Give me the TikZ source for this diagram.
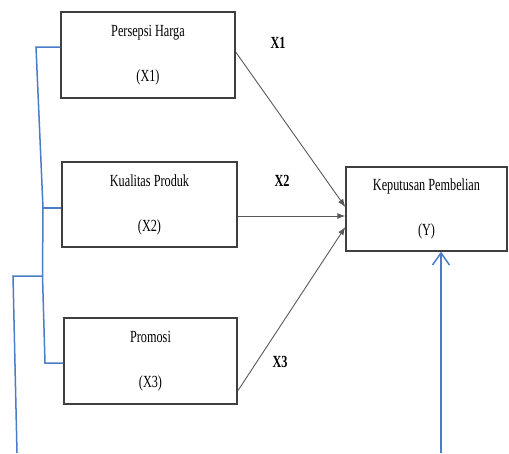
\documentclass[tikz,border=0pt]{standalone}
\usepackage{fontspec}
\setmainfont{Liberation Serif}
\usepackage{graphicx}
\usepackage{xcolor}
\usetikzlibrary{arrows.meta,calc}
\definecolor{boxgray}{HTML}{3F3F3F}
\definecolor{arrowgray}{HTML}{595959}
\definecolor{linkblue}{HTML}{4A7CC8}
% narrow, tall lettering
\newcommand\cond[1]{\scalebox{0.72}[1]{#1}}
\begin{document}
\begin{tikzpicture}[x=1pt,y=-1pt,
  box/.style={draw=boxgray,line width=1.4pt,rectangle,inner sep=0pt,align=center,
    font=\fontsize{17}{17}\selectfont},
  path/.style={draw=arrowgray,line width=0.9pt,-{Latex[length=8pt,width=6pt]}},
  link/.style={draw=linkblue,line width=1.5pt},
  lab/.style={font=\fontsize{17}{17}\selectfont\bfseries,inner sep=0pt}]
\useasboundingbox (0,0) rectangle (509,453);

% variable boxes
\node[box,minimum width=174pt,minimum height=86pt] (b1) at (148,55)
  {\cond{Persepsi Harga}\\[28pt]\cond{(X1)}};
\node[box,minimum width=175pt,minimum height=85pt] (b2) at (149.5,204.5)
  {\cond{Kualitas Produk}\\[28pt]\cond{(X2)}};
\node[box,minimum width=173pt,minimum height=86pt] (b3) at (150.5,361)
  {\cond{Promosi}\\[28pt]\cond{(X3)}};
\node[box,minimum width=161pt,minimum height=84pt] (Y) at (426.5,209)
  {\cond{Keputusan Pembelian}\\[28pt]\cond{(Y)}};

% partial effects
\draw[path] ($(b1.east)+(0,-3)$) -- ($(Y.west)+(0,-2)$);
\draw[path] ($(b2.east)+(0,11.5)$) -- ($(Y.west)+(0,7)$);
\draw[path] ($(b3.east)+(0,30)$) -- ($(Y.west)+(0,18)$);

\node[lab] (l1) at (278,43) {\cond{X1}};
\node[lab] (l2) at (282,181) {\cond{X2}};
\node[lab] (l3) at (280,362) {\cond{X3}};

% simultaneous effect bracket
\coordinate (t1) at (36,47);
\coordinate (t2) at (43,208);
\coordinate (tm) at (42.5,276);
\coordinate (t3) at (45,363);
\coordinate (s1) at (13,276);
\coordinate (s2) at (17,453);
\draw[link] (b1.west |- t1) -- (t1) -- (t2) -- (tm) -- (t3) -- (b3.west |- t3);
\draw[link] (t2) -- (b2.west |- t2);
\draw[link] (tm) -- (s1) -- (s2);
\coordinate (r0) at (441,453);
\draw[link,-{Straight Barb[length=12pt,width=17pt]}] (r0) -- (r0 |- Y.south);
\end{tikzpicture}
\end{document}
